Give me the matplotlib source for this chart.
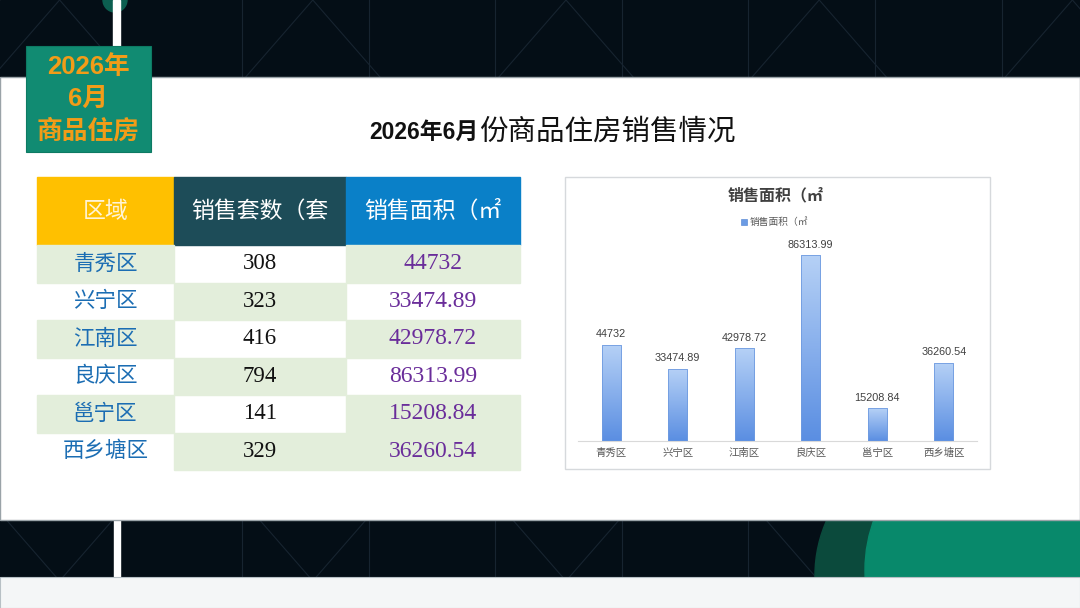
import numpy as np
import matplotlib.pyplot as plt
from matplotlib.patches import Rectangle, Ellipse, Circle
from matplotlib.colors import LinearSegmentedColormap

plt.rcParams['font.family'] = ['Noto Sans CJK SC', 'DejaVu Sans']

# data
districts = ['青秀区', '兴宁区', '江南区', '良庆区', '邕宁区', '西乡塘区']
units = [308, 323, 416, 794, 141, 329]
areas = [44732, 33474.89, 42978.72, 86313.99, 15208.84, 36260.54]
area_labels = ['44732', '33474.89', '42978.72', '86313.99', '15208.84', '36260.54']
headers = ['区域', '销售套数（套', '销售面积（㎡']
badge_lines = ['2026年', '6月', '商品住房']

SANS = ['Liberation Sans', 'Noto Sans CJK SC']
SERIF = ['Liberation Serif', 'DejaVu Serif']

W, H = 1080, 608
fig = plt.figure(figsize=(W / 100, H / 100), dpi=100)
bg = fig.add_axes([0, 0, 1, 1])
bg.set_xlim(0, W)
bg.set_ylim(H, 0)
bg.axis('off')

# dark background with faint line pattern
bg.add_patch(Rectangle((0, 0), W, H, color='#040e16', zorder=0))
for k in range(-1, 8):
    vx = 242 + 126.6 * k
    bg.plot([vx, vx], [0, H], color='#172430', lw=0.8, zorder=1)
for x0 in np.arange(-700, 1800, 253.2):
    bg.plot([x0, x0 + 530], [0, H], color='#172430', lw=0.8, zorder=1)
    bg.plot([x0, x0 - 530], [0, H], color='#172430', lw=0.8, zorder=1)

# green blob bottom right + small circle top left
bg.add_patch(Ellipse((985, 575), 340, 300, color='#0b4a3c', zorder=2))
bg.add_patch(Ellipse((1000, 570), 270, 280, color='#08896b', zorder=2))
bg.add_patch(Circle((115, 0), 12, color='#0c5f50', zorder=2))

# white vertical bars
bg.add_patch(Rectangle((113, 0), 7, 78, color='white', zorder=3))
bg.add_patch(Rectangle((114, 520), 6, 57, color='white', zorder=3))

# white panel and bottom strip
bg.add_patch(Rectangle((0, 77), W, 443, facecolor='white', edgecolor='#9aa3a8', lw=1.0, zorder=4))
bg.add_patch(Rectangle((0, 577), W, 31, facecolor='#f4f6f7', edgecolor='#b7c0c5', lw=0.8, zorder=4))

# badge
bg.add_patch(Rectangle((26, 46), 125, 106, facecolor='#118b72', edgecolor='#0d7a63', lw=0.8, zorder=5))
for i, line in enumerate(badge_lines):
    bg.text(88, 67 + i * 32, line, ha='center', va='center', fontsize=18.5,
            fontweight='bold', color='#f29c18', family=SANS, zorder=6)

# title
bg.text(478, 132, '2026年6月', ha='right', va='center', fontsize=16.5,
        fontweight='bold', color='#111111', family=SANS, zorder=6)
bg.text(479, 132, '份商品住房销售情况', ha='left', va='center', fontsize=20.5,
        color='#111111', zorder=6)

# table
col_x = [37, 174, 346, 520]
head_top, head_h, row_h = 177, 68, 37.5
head_colors = ['#ffc000', '#1d4c58', '#0a80c8']
head_text = ['#fff4d6', 'white', 'white']
green = '#e3eedb'
for j, h in enumerate(headers):
    bg.add_patch(Rectangle((col_x[j], head_top), col_x[j + 1] - col_x[j], head_h,
                           color=head_colors[j], zorder=5))
    bg.text((col_x[j] + col_x[j + 1]) / 2, head_top + head_h / 2, h, ha='center',
            va='center', fontsize=16.5, color=head_text[j], zorder=6)

for i in range(len(districts)):
    y0 = head_top + head_h + i * row_h
    for j in range(3):
        shaded = (i + j) % 2 == 0 or (i == len(districts) - 1 and j == 2)
        if shaded:
            bg.add_patch(Rectangle((col_x[j], y0), col_x[j + 1] - col_x[j], row_h,
                                   color=green, zorder=5))
    yc = y0 + row_h / 2
    bg.text((col_x[0] + col_x[1]) / 2, yc, districts[i], ha='center', va='center',
            fontsize=15.5, color='#1b6db3', zorder=6)
    bg.text((col_x[1] + col_x[2]) / 2, yc, str(units[i]), ha='center', va='center',
            fontsize=16.5, color='#111111', family=SERIF, zorder=6)
    bg.text((col_x[2] + col_x[3]) / 2, yc, area_labels[i], ha='center', va='center',
            fontsize=17, color='#6a2d9a', family=SERIF, zorder=6)

# chart frame
bg.add_patch(Rectangle((565, 177), 425, 292, facecolor='white', edgecolor='#d6d9dc',
                       lw=1.0, zorder=5))
bg.text(776, 195, '销售面积（㎡', ha='center', va='center', fontsize=11.5,
        fontweight='bold', color='#404040', zorder=6)
bg.add_patch(Rectangle((741, 219), 6, 6, facecolor='#6b9be4', edgecolor='#4a7fd0',
                       lw=0.4, zorder=6))
bg.text(750, 222, '销售面积（㎡', ha='left', va='center', fontsize=7,
        color='#595959', zorder=6)

# bar chart
ax = fig.add_axes([578 / W, (H - 441) / H, (977 - 578) / W, (441 - 225.5) / H])
ax.set_zorder(10)
ax.patch.set_alpha(0)
x = np.arange(len(districts))
bars = ax.bar(x, areas, width=0.29, color='none', edgecolor='#6f9be0', lw=0.6, zorder=3)
cmap = LinearSegmentedColormap.from_list('g', ['#5a8ee2', '#b6d1f6'])
grad = np.linspace(0, 1, 256).reshape(-1, 1)
for b in bars:
    im = ax.imshow(grad, cmap=cmap, origin='lower', aspect='auto', zorder=2,
                   extent=[b.get_x(), b.get_x() + b.get_width(), 0, b.get_height()])
    im.set_clip_path(b)
for xi, v, lab in zip(x, areas, area_labels):
    ax.text(xi, v + 2500, lab, ha='center', va='bottom', fontsize=7.8,
            color='#404040', family=SANS)
ax.set_xlim(-0.5, 5.5)
ax.set_ylim(0, 100000)
ax.set_xticks(x)
ax.set_xticklabels(districts, fontsize=7.5, color='#595959')
ax.tick_params(axis='x', length=0, pad=5)
ax.set_yticks([])
for s in ['top', 'right', 'left']:
    ax.spines[s].set_visible(False)
ax.spines['bottom'].set_color('#d9d9d9')

fig.savefig('out.png', dpi=100)
